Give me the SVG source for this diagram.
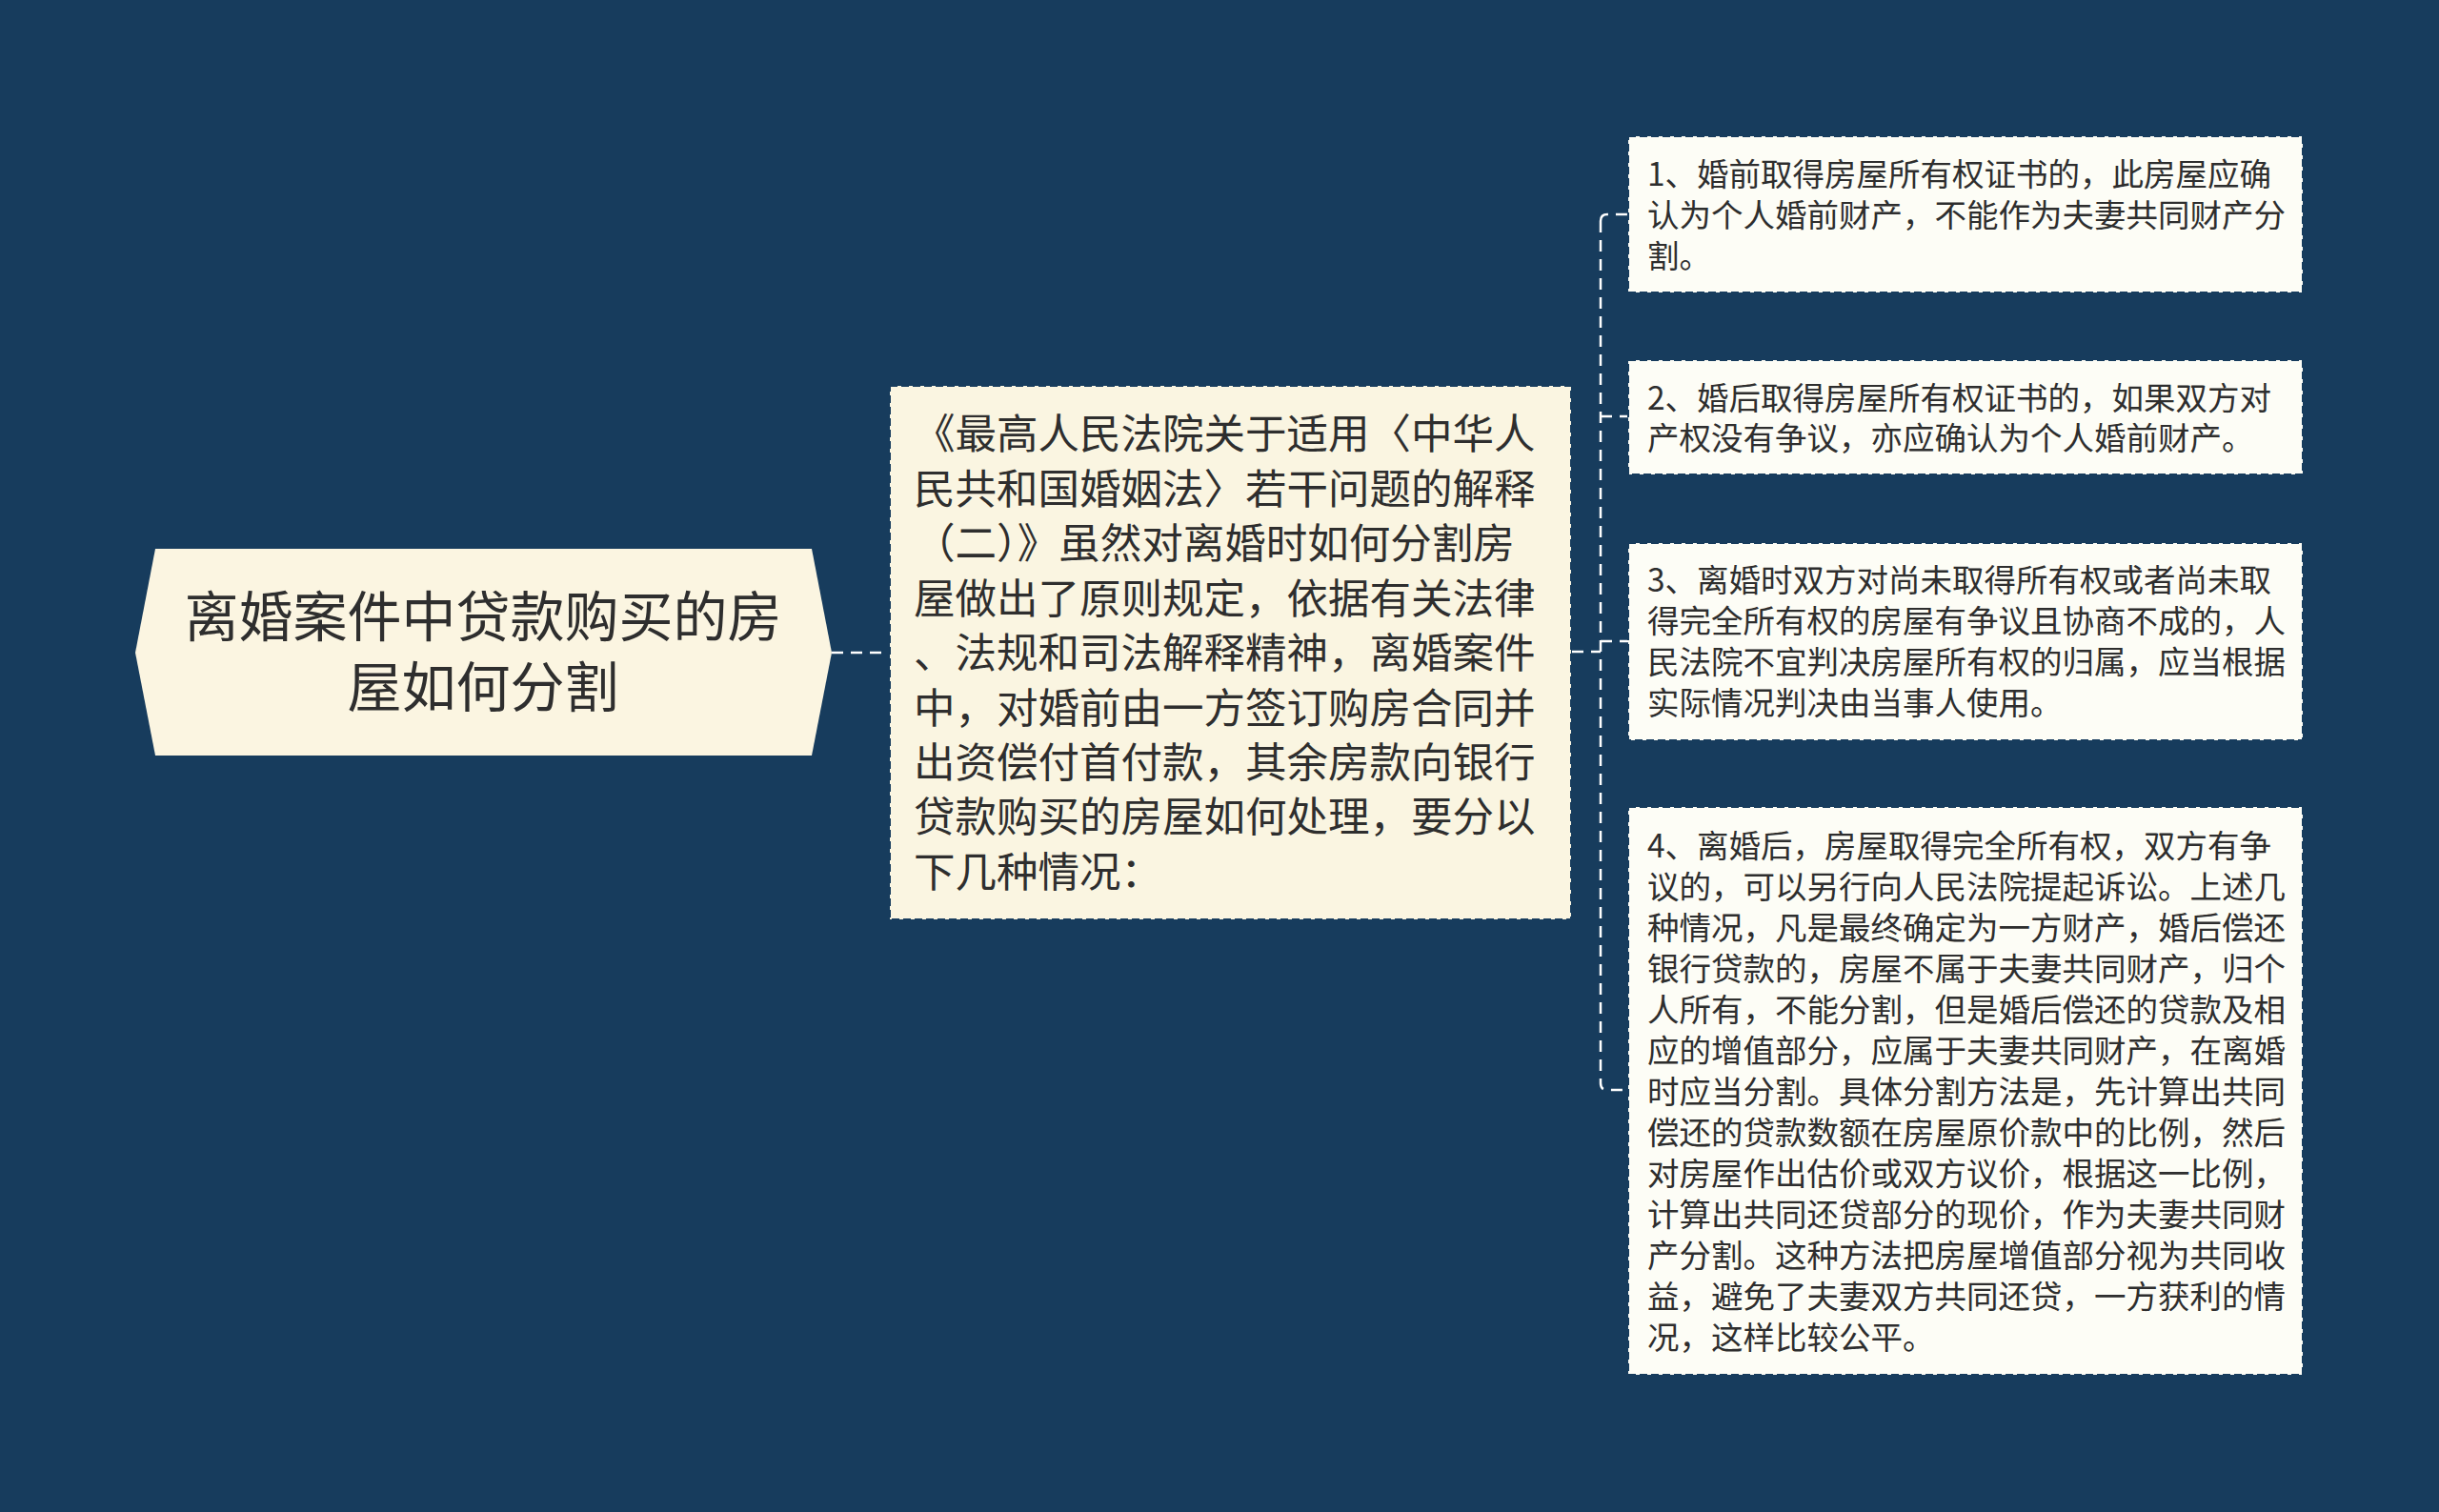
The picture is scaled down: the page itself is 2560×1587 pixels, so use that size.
<svg xmlns="http://www.w3.org/2000/svg" width="2560" height="1587" viewBox="0 0 2560 1587">
<style>
.bg{fill:#173C5D}
.box{stroke:#173C5D;stroke-width:2;stroke-dasharray:8 4}
.cream{fill:#FAF5E1}
.white{fill:#FDFDF6}
.t{font-family:"Noto Sans CJK SC","Noto Sans",sans-serif;fill:#2E2E2E}
.root{font-size:57px}
.mid{font-size:43.5px}
.leaf{font-size:33.5px}
.conn{fill:none;stroke:#FFFFFF;stroke-width:2.5;stroke-dasharray:12 8}
</style>
<rect class="bg" x="0" y="0" width="2560" height="1587"/>
<g id="connectors">
<path class="conn" d="M873,685 H934"/>
<path class="conn" d="M1650,684 H1680"/>
<path class="conn" d="M1680,232 Q1680,225 1687,225 H1709"/>
<path class="conn" d="M1680,232 V1137 Q1680,1144 1687,1144 H1709"/>
<path class="conn" d="M1680,437 H1709"/>
<path class="conn" d="M1680,673 H1709"/>
</g>
<g id="root">
<polygon fill="#FBF5E1" points="163,576 852,576 873,685 852,793 163,793 142,685"/>
<text class="t root" text-anchor="middle" x="507" y="668">离婚案件中贷款购买的房</text>
<text class="t root" text-anchor="middle" x="507" y="742">屋如何分割</text>
</g>
<g id="middle">
<rect class="box cream" x="934" y="405" width="715" height="560"/>
<text class="t mid" x="959" y="471">《最高人民法院关于适用〈中华人</text>
<text class="t mid" x="959" y="529">民共和国婚姻法〉若干问题的解释</text>
<text class="t mid" x="959" y="586">（二）》虽然对离婚时如何分割房</text>
<text class="t mid" x="959" y="644">屋做出了原则规定，依据有关法律</text>
<text class="t mid" x="959" y="701">、法规和司法解释精神，离婚案件</text>
<text class="t mid" x="959" y="759">中，对婚前由一方签订购房合同并</text>
<text class="t mid" x="959" y="816">出资偿付首付款，其余房款向银行</text>
<text class="t mid" x="959" y="873">贷款购买的房屋如何处理，要分以</text>
<text class="t mid" x="959" y="931">下几种情况：</text>
</g>
<g id="leaf1">
<rect class="box white" x="1709" y="143" width="708" height="164"/>
<text class="t leaf" x="1729" y="195">1、婚前取得房屋所有权证书的，此房屋应确</text>
<text class="t leaf" x="1729" y="238">认为个人婚前财产，不能作为夫妻共同财产分</text>
<text class="t leaf" x="1729" y="281">割。</text>
</g>
<g id="leaf2">
<rect class="box white" x="1709" y="378" width="708" height="120"/>
<text class="t leaf" x="1729" y="430">2、婚后取得房屋所有权证书的，如果双方对</text>
<text class="t leaf" x="1729" y="472">产权没有争议，亦应确认为个人婚前财产。</text>
</g>
<g id="leaf3">
<rect class="box white" x="1709" y="570" width="708" height="207"/>
<text class="t leaf" x="1729" y="621">3、离婚时双方对尚未取得所有权或者尚未取</text>
<text class="t leaf" x="1729" y="664">得完全所有权的房屋有争议且协商不成的，人</text>
<text class="t leaf" x="1729" y="707">民法院不宜判决房屋所有权的归属，应当根据</text>
<text class="t leaf" x="1729" y="750">实际情况判决由当事人使用。</text>
</g>
<g id="leaf4">
<rect class="box white" x="1709" y="847" width="708" height="596"/>
<text class="t leaf" x="1729" y="900">4、离婚后，房屋取得完全所有权，双方有争</text>
<text class="t leaf" x="1729" y="943">议的，可以另行向人民法院提起诉讼。上述几</text>
<text class="t leaf" x="1729" y="986">种情况，凡是最终确定为一方财产，婚后偿还</text>
<text class="t leaf" x="1729" y="1029">银行贷款的，房屋不属于夫妻共同财产，归个</text>
<text class="t leaf" x="1729" y="1072">人所有，不能分割，但是婚后偿还的贷款及相</text>
<text class="t leaf" x="1729" y="1115">应的增值部分，应属于夫妻共同财产，在离婚</text>
<text class="t leaf" x="1729" y="1158">时应当分割。具体分割方法是，先计算出共同</text>
<text class="t leaf" x="1729" y="1201">偿还的贷款数额在房屋原价款中的比例，然后</text>
<text class="t leaf" x="1729" y="1244">对房屋作出估价或双方议价，根据这一比例，</text>
<text class="t leaf" x="1729" y="1287">计算出共同还贷部分的现价，作为夫妻共同财</text>
<text class="t leaf" x="1729" y="1330">产分割。这种方法把房屋增值部分视为共同收</text>
<text class="t leaf" x="1729" y="1373">益，避免了夫妻双方共同还贷，一方获利的情</text>
<text class="t leaf" x="1729" y="1416">况，这样比较公平。</text>
</g>
</svg>
